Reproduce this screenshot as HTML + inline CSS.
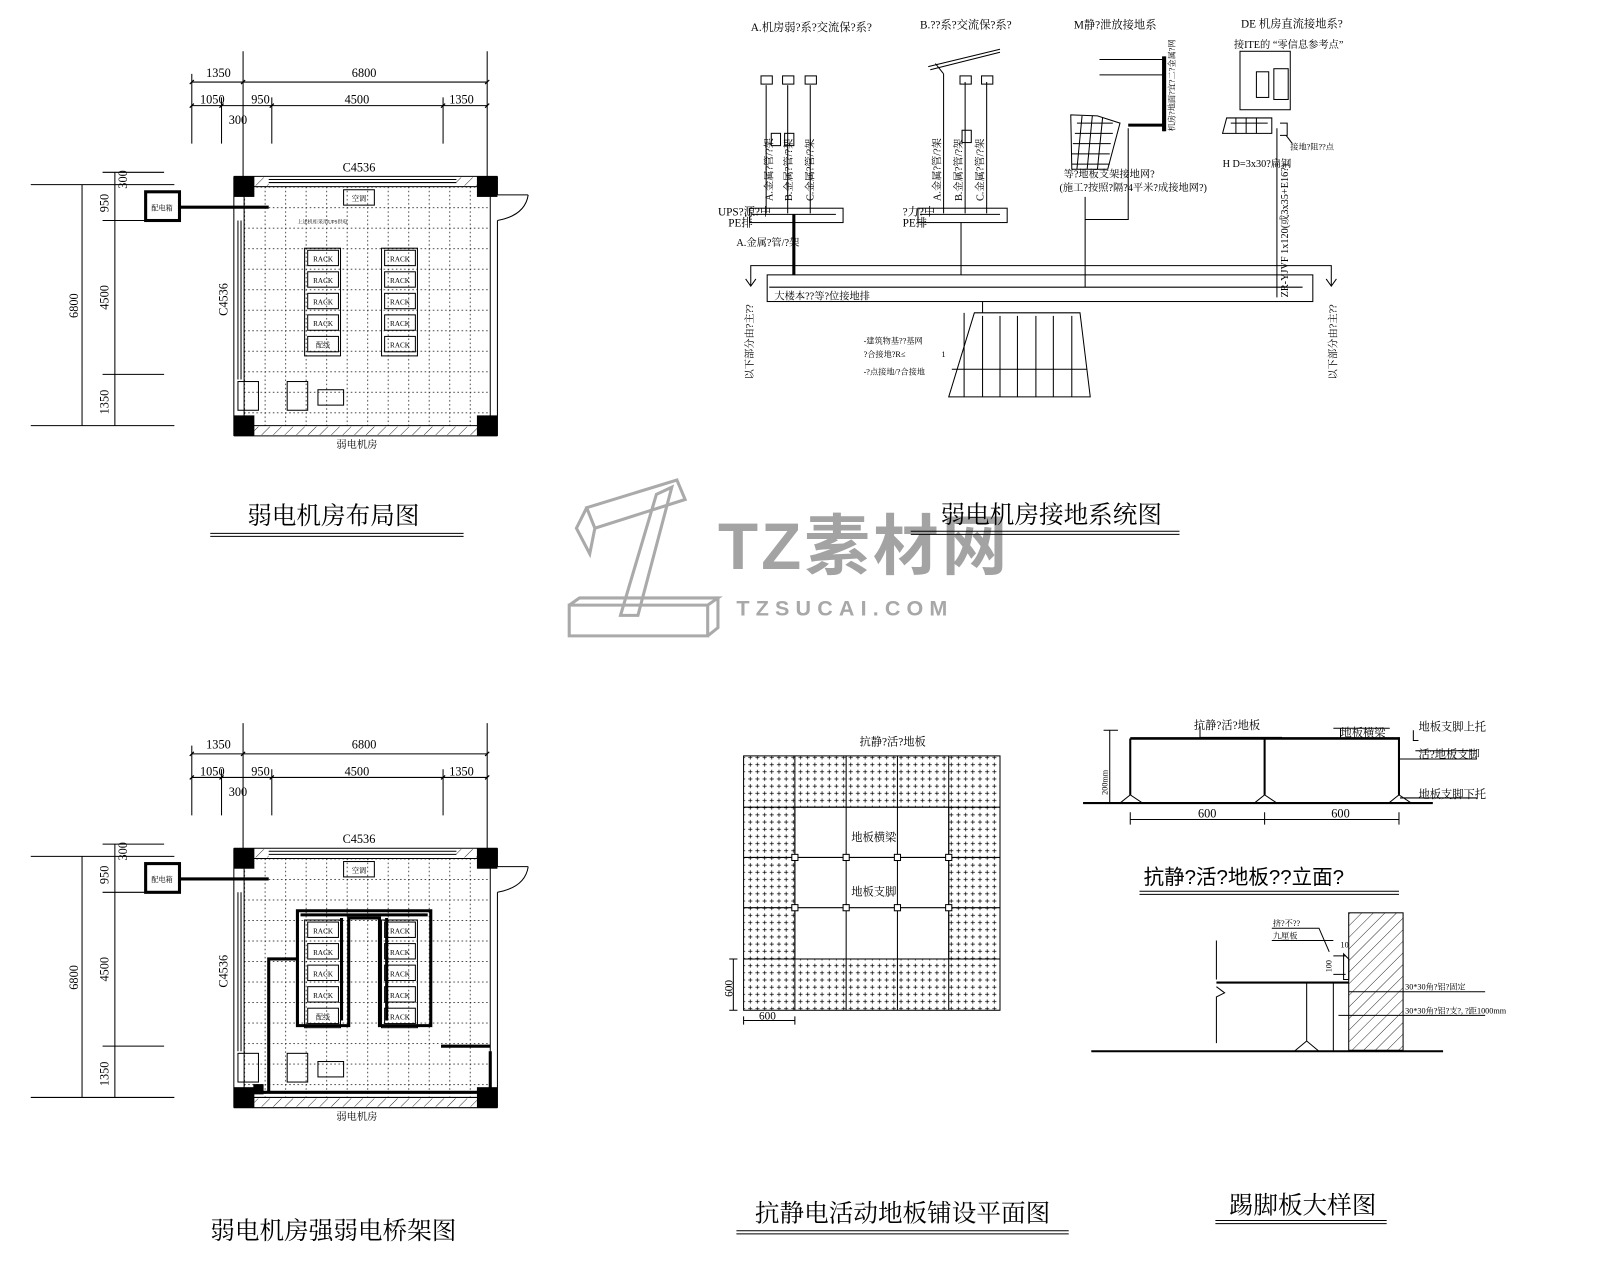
<!DOCTYPE html>
<html><head><meta charset="utf-8"><style>
html,body{margin:0;padding:0;background:#fff;}
svg{display:block;}
text{font-family:"Liberation Serif","Noto Serif CJK SC","Noto Sans CJK SC",serif;fill:#000;}
.s{font-family:"Liberation Sans","Noto Sans CJK SC",sans-serif;}
</style></head><body>
<svg width="1600" height="1280" viewBox="0 0 1560 1248" xmlns="http://www.w3.org/2000/svg">
<defs>
<pattern id="dots" x="238" y="182" width="20" height="20" patternUnits="userSpaceOnUse">
<path d="M0 0.5H20M0.5 0V20" stroke="#000" stroke-width="0.7" stroke-dasharray="1.5,2.5"/>
</pattern>
<pattern id="cross" width="7" height="7" patternUnits="userSpaceOnUse">
<path d="M1.5 3.5h4M3.5 1.5v4" stroke="#000" stroke-width="0.7"/>
</pattern>
<pattern id="hatch" width="8" height="8" patternUnits="userSpaceOnUse" patternTransform="rotate(45)">
<path d="M0 0V8" stroke="#000" stroke-width="0.8"/>
</pattern>
<g id="plan" fill="none" stroke="#000">
<path d="M187 80H475M187 103H475M237 50V172M475 50V172M187 72V140M216 95V140M265 95V140M432 95V140" stroke-width="1"/>
<path d="M185 82l4-4M235 82l4-4M473 82l4-4M185 105l4-4M214 105l4-4M263 105l4-4M430 105l4-4M473 105l4-4" stroke-width="1.2"/>
<path d="M80 180V415M112 168V415M30 180H170M100 168H160M100 215H170M100 365H160M30 415H170" stroke-width="1"/>
<rect x="238" y="182" width="240" height="233" fill="url(#dots)" stroke="none"/>
<path d="M228 172H485M228 182H478M228 415H485M228 425H485M228 172V425M238 182V415M478 182V415M485 172V190M485 215V425" stroke-width="1"/>
<rect x="238" y="173" width="24" height="8" fill="url(#hatch)" stroke="none"/>
<rect x="445" y="173" width="20" height="8" fill="url(#hatch)" stroke="none"/>
<rect x="248" y="416" width="217" height="8" fill="url(#hatch)" stroke="none"/>
<path d="M262 175H445M262 178H445" stroke-width="1"/>
<path d="M232 215V370M235 215V370" stroke-width="1"/>
<path d="M485 190H515M515 190Q512 210 485 215" stroke-width="1"/>
<rect x="228" y="172" width="20" height="20" fill="#000" stroke="none"/>
<rect x="465" y="172" width="20" height="20" fill="#000" stroke="none"/>
<rect x="228" y="405" width="20" height="20" fill="#000" stroke="none"/>
<rect x="465" y="405" width="20" height="20" fill="#000" stroke="none"/>
<rect x="335" y="185" width="30" height="15" stroke-width="1"/>
<rect x="142" y="187" width="33" height="28" stroke-width="3"/>
<path d="M175 202H262" stroke-width="3"/>
<rect x="297" y="242" width="35" height="105" stroke-width="1"/>
<rect x="372" y="242" width="35" height="105" stroke-width="1"/>
<rect x="232" y="372" width="20" height="28" stroke-width="1"/>
<rect x="280" y="372" width="20" height="28" stroke-width="1"/>
<rect x="310" y="380" width="25" height="15" stroke-width="1"/>
</g>
<g id="racks" fill="none" stroke="#000" stroke-width="1">
<rect x="300" y="244" width="30" height="15"/><rect x="300" y="265" width="30" height="15"/><rect x="300" y="286" width="30" height="15"/><rect x="300" y="307" width="30" height="15"/><rect x="300" y="328" width="30" height="15"/>
<rect x="375" y="244" width="30" height="15"/><rect x="375" y="265" width="30" height="15"/><rect x="375" y="286" width="30" height="15"/><rect x="375" y="307" width="30" height="15"/><rect x="375" y="328" width="30" height="15"/>
</g>
</defs>

<use href="#plan"/><use href="#racks"/>
<g class="s" font-size="12" text-anchor="middle">
<text x="213" y="75">1350</text><text x="355" y="75">6800</text>
<text x="207" y="101">1050</text><text x="254" y="101">950</text><text x="348" y="101">4500</text><text x="450" y="101">1350</text>
<text x="232" y="121">300</text><text x="350" y="167">C4536</text>
<text transform="translate(76,298) rotate(-90)">6800</text>
<text transform="translate(106,198) rotate(-90)">950</text>
<text transform="translate(106,290) rotate(-90)">4500</text>
<text transform="translate(106,392) rotate(-90)">1350</text>
<text transform="translate(124,175) rotate(-90)">300</text>
<text transform="translate(222,292) rotate(-90)">C4536</text>
<g font-size="7"><text x="315" y="255">RACK</text><text x="315" y="276">RACK</text><text x="315" y="297">RACK</text><text x="315" y="318">RACK</text><text x="315" y="339">配线</text>
<text x="390" y="255">RACK</text><text x="390" y="276">RACK</text><text x="390" y="297">RACK</text><text x="390" y="318">RACK</text><text x="390" y="339">RACK</text>
<text x="350" y="196">空调</text><text x="158" y="205">配电箱</text></g>
<text x="290" y="218" font-size="5" text-anchor="start">上述机柜采用UPS供电</text>
<text x="348" y="437" font-size="10">弱电机房</text>
</g>
<text x="325" y="511" font-size="24" text-anchor="middle">弱电机房布局图</text>
<path d="M205 520H452M205 523H452" stroke="#000" stroke-width="1"/>

<g transform="translate(0,655)"><use href="#plan"/><use href="#racks"/>
<g class="s" font-size="12" text-anchor="middle">
<text x="213" y="75">1350</text><text x="355" y="75">6800</text>
<text x="207" y="101">1050</text><text x="254" y="101">950</text><text x="348" y="101">4500</text><text x="450" y="101">1350</text>
<text x="232" y="121">300</text><text x="350" y="167">C4536</text>
<text transform="translate(76,298) rotate(-90)">6800</text>
<text transform="translate(106,198) rotate(-90)">950</text>
<text transform="translate(106,290) rotate(-90)">4500</text>
<text transform="translate(106,392) rotate(-90)">1350</text>
<text transform="translate(124,175) rotate(-90)">300</text>
<text transform="translate(222,292) rotate(-90)">C4536</text>
<g font-size="7"><text x="315" y="255">RACK</text><text x="315" y="276">RACK</text><text x="315" y="297">RACK</text><text x="315" y="318">RACK</text><text x="315" y="339">配线</text>
<text x="390" y="255">RACK</text><text x="390" y="276">RACK</text><text x="390" y="297">RACK</text><text x="390" y="318">RACK</text><text x="390" y="339">RACK</text>
<text x="350" y="196">空调</text><text x="158" y="205">配电箱</text></g>
<text x="348" y="437" font-size="10">弱电机房</text>
</g>
<g fill="none" stroke="#000" stroke-width="3">
<path d="M290 233H420V345H370V240H340V345H290Z"/>
<path d="M293 237H417M333 240V340M377 240V340"/>
<path d="M290 280H262V410H250M258 410H478V370M430 365H478"/>
</g>
<rect x="247" y="402" width="10" height="10" fill="#000"/>
</g>
<text x="325" y="1208" font-size="24" text-anchor="middle">弱电机房强弱电桥架图</text>

<g fill="none" stroke="#aaa" stroke-width="3">
<path d="M572 495L660 468L668 487L580 515Z M572 495L562 515L575 540L580 515"/>
<path d="M640 482L655 475L622 600L605 600Z"/>
<path d="M555 590H690V620H555Z M555 590L565 583H700L690 590 M690 620L700 612V583"/>
</g>
<text x="700" y="555" font-size="64" font-weight="bold" class="s" style="fill:#a3a3a3" letter-spacing="3">TZ素材网</text>
<text x="718" y="600" font-size="21" font-weight="bold" class="s" style="fill:#a8a8a8" letter-spacing="6">TZSUCAI.COM</text>

<g fill="none" stroke="#000" stroke-width="1">
<rect x="748" y="268" width="532" height="26"/>
<path d="M750 280H1270"/>
<path d="M732 278V259H1298V278M727 272l5 7 5-7M1293 272l5 7 5-7"/>
<path d="M950 305H1053L1063 387H925Z"/>
<path d="M958 294V305M940 387V305M958 387V308M975 387V308M992 387V308M1010 387V308M1027 387V308M1045 387V308M928 360H1060"/>
<rect x="731" y="203" width="91" height="14"/>
<path d="M733 209H815"/>
<path d="M747 83V208M768 83V208M790 83V208"/>
<rect x="742" y="74" width="11" height="8"/><rect x="763" y="74" width="11" height="8"/><rect x="785" y="74" width="11" height="8"/>
<rect x="752" y="130" width="9" height="12"/><rect x="765" y="130" width="9" height="12"/>
<path d="M774 209V268" stroke-width="3"/>
<rect x="895" y="203" width="87" height="14"/>
<path d="M897 209H975M920 72V208M941 80V208M962 80V208M937 217V268"/>
<rect x="936" y="74" width="11" height="8"/><rect x="957" y="74" width="11" height="8"/>
<rect x="938" y="127" width="9" height="12"/>
<path d="M905 65L975 48M907 68L975 51M912 62L920 72"/>
<path d="M1058 192V280M1058 214H1100V125M1072 58H1135M1072 73H1135M1135 55V128" />
<path d="M1135 55V128" stroke-width="4"/>
<path d="M1044 112L1070 113L1092 120L1080 165L1045 165Z"/>
<path d="M1050 120H1085M1048 130H1085M1046 140H1083M1045 150H1082M1045 160H1082M1055 113L1050 165M1065 113L1060 165M1075 115L1070 165"/>
<path d="M1100 122H1135" stroke-width="3"/>
<rect x="1209" y="50" width="49" height="57"/>
<rect x="1225" y="70" width="12" height="25"/><rect x="1242" y="67" width="14" height="30"/>
<path d="M1196 115H1240V130H1192Z M1200 120H1236M1205 115V130M1215 115V130M1225 115V130"/>
<path d="M1245 125V290M1248 120H1255V132H1248M1254 132L1260 140"/>
</g>
<g font-size="10" style="font-family:'Liberation Serif','Noto Sans CJK SC',serif">
<text x="732" y="30" font-size="11">A.机房弱?系?交流保?系?</text>
<text x="897" y="28" font-size="11">B.??系?交流保?系?</text>
<text x="1047" y="28" font-size="11">M静?泄放接地系</text>
<text x="1210" y="27" font-size="11">DE 机房直流接地系?</text>
<text x="1203" y="47" font-size="10">接ITE的 “零信息参考点”</text>
<text x="700" y="210" font-size="11">UPS?源?中</text><text x="710" y="221" font-size="11">PE排</text>
<text x="880" y="210" font-size="11">?力?中</text><text x="880" y="221" font-size="11">PE排</text>
<text x="718" y="240">A.金属?管/?架</text>
<text x="755" y="292">大楼本??等?位接地排</text>
<text x="1037" y="173">等?地板支架接地网?</text>
<text x="1033" y="186">(施工?按照?隔?4平米?成接地网?)</text>
<text x="1192" y="163">H D=3x30?扁钢</text>
<text x="1258" y="146" font-size="8">接地?阻??点</text>
<text x="842" y="335" font-size="8">-建筑物基??基网</text><text x="842" y="348" font-size="8">?合接地?R≤</text><text x="918" y="348" font-size="8">1</text>
<text x="842" y="365" font-size="8">-?点接地/?合接地</text>
<text transform="translate(753,196) rotate(-90)">A.金属?管/?架</text>
<text transform="translate(772,196) rotate(-90)">B.金属?管/?架</text>
<text transform="translate(793,196) rotate(-90)">C.金属?管/?架</text>
<text transform="translate(917,196) rotate(-90)">A.金属?管/?架</text>
<text transform="translate(938,196) rotate(-90)">B.金属?管/?架</text>
<text transform="translate(959,196) rotate(-90)">C.金属?管/?架</text>
<text transform="translate(1256,290) rotate(-90)">ZR-YJVF 1x120(或3x35+E16?)</text>
<text transform="translate(734,370) rotate(-90)">以下部分由?主??</text>
<text transform="translate(1303,370) rotate(-90)">以下部分由?主??</text>
<text transform="translate(1145,128) rotate(-90)" font-size="8">机房?地面?宜?二?金属?网</text>
</g>
<text x="1025" y="510" font-size="24" text-anchor="middle">弱电机房接地系统图</text>
<path d="M888 518H1150M888 521H1150" stroke="#000" stroke-width="1"/>

<rect x="725" y="737" width="250" height="248" fill="url(#cross)" stroke="#000"/>
<rect x="775" y="787" width="150" height="148" fill="#fff" stroke="#000"/>
<g stroke="#000" fill="none" stroke-width="1">
<path d="M775 737V985M825 737V985M875 737V985M925 737V985M725 787H975M725 836H975M725 885H975M725 935H975"/>
<path d="M715 935V985M725 995H775M711 935H719M711 985H719M725 991V999M775 991V999"/>
</g>
<g fill="#fff" stroke="#000"><rect x="772" y="833" width="6" height="6"/><rect x="822" y="833" width="6" height="6"/><rect x="872" y="833" width="6" height="6"/><rect x="922" y="833" width="6" height="6"/><rect x="772" y="882" width="6" height="6"/><rect x="822" y="882" width="6" height="6"/><rect x="872" y="882" width="6" height="6"/><rect x="922" y="882" width="6" height="6"/></g>
<g font-size="11" style="font-family:'Liberation Serif','Noto Sans CJK SC',serif">
<text x="838" y="727">抗静?活?地板</text>
<text x="830" y="820">地板横梁</text><text x="830" y="873">地板支脚</text>
<text x="740" y="994">600</text><text transform="translate(714,972) rotate(-90)">600</text>
</g>
<text x="880" y="1191" font-size="24" text-anchor="middle">抗静电活动地板铺设平面图</text>
<path d="M718 1200H1042M718 1203H1042" stroke="#000" stroke-width="1"/>

<g fill="none" stroke="#000" stroke-width="1">
<path d="M1102 720H1365" stroke-width="2.5"/>
<path d="M1056 783H1397" stroke-width="2"/>
<path d="M1102 720V775M1233 720V775M1364 720V775" stroke-width="2"/>
<path d="M1092 783L1102 775L1114 783M1223 783L1233 775L1245 783M1354 783L1364 775L1376 783"/>
<path d="M1102 799H1364M1102 792V804M1233 792V804M1364 792V804M1082 712V783M1076 712H1090"/>
<path d="M1170 708V719H1250M1307 710V719M1300 710H1355M1378 712V722H1383M1364 740H1440M1365 778H1440M1380 732H1440"/>
</g>
<g font-size="11" style="font-family:'Liberation Serif','Noto Sans CJK SC',serif">
<text x="1164" y="711">抗静?活?地板</text><text x="1307" y="718">地板横梁</text>
<text x="1383" y="712">地板支脚上托</text><text x="1383" y="739">活?地板支脚</text><text x="1383" y="778">地板支脚下托</text>
<text x="1168" y="797" font-size="12">600</text><text x="1298" y="797" font-size="12">600</text>
<text transform="translate(1080,775) rotate(-90)" font-size="8">200mm</text>
</g>
<text x="1115" y="862" font-size="20" class="s">抗静?活?地板??立面?</text>
<path d="M1111 869H1364M1111 872H1364" stroke="#000"/>
<rect x="1315" y="890" width="53" height="134" fill="url(#hatch)" stroke="#000"/>
<g fill="none" stroke="#000" stroke-width="1">
<path d="M1064 1025H1407" stroke-width="2"/>
<path d="M1186 958H1315" stroke-width="2"/>
<path d="M1186 917V955M1186 962L1194 968L1186 972V1017M1274 958V1015M1262 1025L1274 1015L1286 1025M1300 958V1025M1310 930V955H1315V935Z"/>
<path d="M1300 932H1312M1300 950H1312M1240 905H1286L1296 928M1240 917H1300M1315 967H1448M1305 990H1448"/>
</g>
<g font-size="8" style="font-family:'Liberation Serif','Noto Sans CJK SC',serif">
<text x="1241" y="903">挤?不??</text><text x="1241" y="915">九厘板</text>
<text x="1370" y="965">30*30角?铝?固定</text><text x="1370" y="988">30*30角?铝?支?, ?距1000mm</text>
<text transform="translate(1298,948) rotate(-90)">100</text><text x="1307" y="924">10</text>
</g>
<text x="1270" y="1183" font-size="24" text-anchor="middle">踢脚板大样图</text>
<path d="M1185 1190H1352M1185 1193H1352" stroke="#000"/>
</svg>
</body></html>
